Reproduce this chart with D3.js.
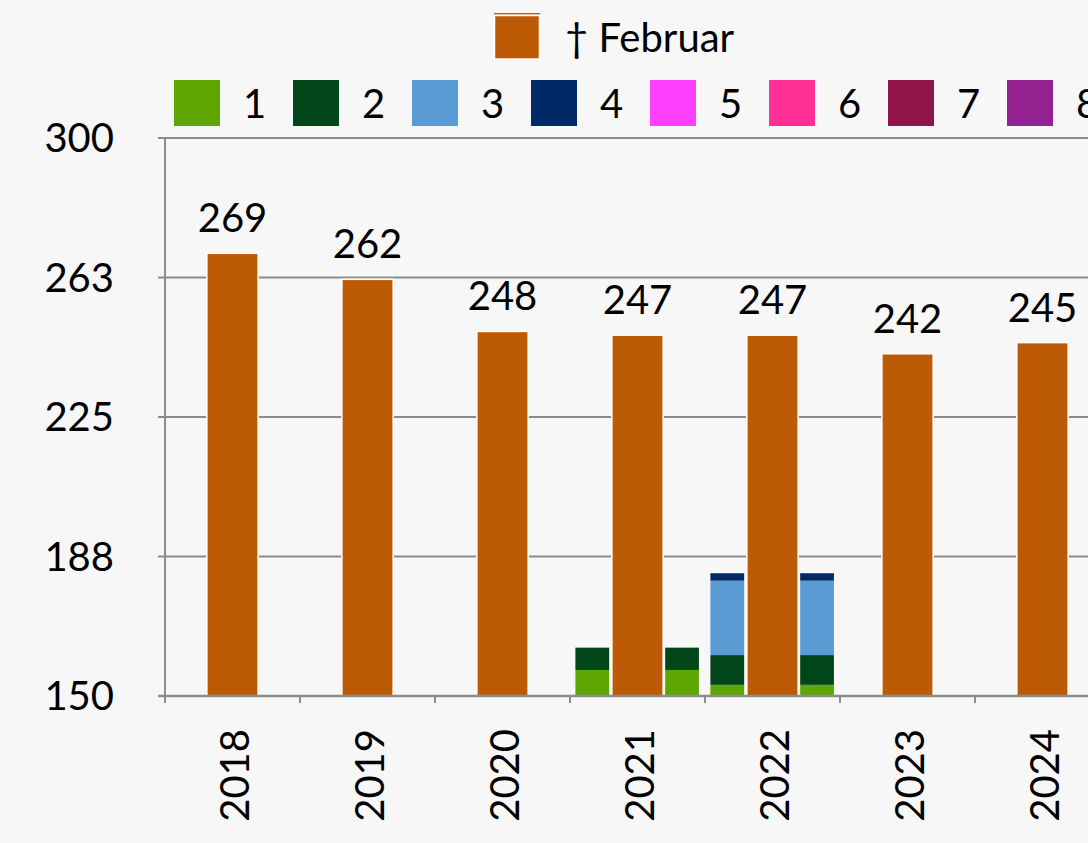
<!DOCTYPE html>
<html>
<head>
<meta charset="utf-8">
<script src="https://cdn.jsdelivr.net/npm/d3@7"></script>
<style>
  html, body { margin: 0; padding: 0; background: #f7f7f7; overflow: hidden; }
  svg { display: block; font-family: Lato, "Open Sans", sans-serif; }
</style>
</head>
<body>
<svg id="vis" width="1088" height="843"></svg>
<script>
// chart data
var years = ["2018", "2019", "2020", "2021", "2022", "2023", "2024"];
var februar = [269, 262, 248, 247, 247, 242, 245];

// stacked series 1..8, segment sizes above the axis minimum
var seriesNames = ["1", "2", "3", "4", "5", "6", "7", "8"];
var s1 = [0, 0, 0, 7, 3, 0, 0];
var s2 = [0, 0, 0, 6, 8, 0, 0];
var s3 = [0, 0, 0, 0, 20, 0, 0];
var s4 = [0, 0, 0, 0, 2, 0, 0];
var s5 = [0, 0, 0, 0, 0, 0, 0];
var s6 = [0, 0, 0, 0, 0, 0, 0];
var s7 = [0, 0, 0, 0, 0, 0, 0];
var s8 = [0, 0, 0, 0, 0, 0, 0];
var yTicks = [150, 187.5, 225, 262.5, 300];

var seriesColors = ["#5ea602", "#004619", "#5b9bd3", "#002a65", "#ff40ff", "#ff2f95", "#92154a", "#93218f"];
var FEB_COLOR = "#bd5a05";
var AXIS_COLOR = "#8c8c8c";

var _vis = d3.select("#vis");
var plotLeft = 165, plotTop = 138, plotBottom = 696;
var bandW = 135;

var x = d3.scaleBand()
    .domain(years)
    .range([plotLeft, plotLeft + bandW * years.length]);

var y = d3.scaleLinear()
    .domain([150, 300])
    .range([plotBottom, plotTop]);

// gridlines
_vis.append("g")
    .selectAll("line")
    .data(yTicks)
    .enter()
    .append("line")
    .attr("x1", plotLeft - 7)
    .attr("x2", 1088)
    .attr("y1", d => y(d))
    .attr("y2", d => y(d))
    .attr("stroke", AXIS_COLOR)
    .attr("stroke-width", 2);

// y labels
_vis.append("g")
    .selectAll("text")
    .data(yTicks)
    .enter()
    .append("text")
    .attr("x", 114)
    .attr("y", d => y(d))
    .attr("dy", "0.36em")
    .attr("text-anchor", "end")
    .attr("font-size", 40)
    .attr("fill", "#000")
    .text(d => d3.format(".0f")(d));

// stacked bars, drawn on both sides of the main bar
var stackData = [s1, s2, s3, s4, s5, s6, s7, s8];
var bw = x.bandwidth();
var sides = [{ off: 0.04 * bw, w: 0.25 * bw }, { off: 0.705 * bw, w: 0.25 * bw }];

var segments = [];
years.forEach(function (yr, i) {
    var base = 150;
    stackData.forEach(function (vals, k) {
        if (vals[i] > 0) {
            segments.push({ year: yr, y0: base, y1: base + vals[i], color: seriesColors[k] });
        }
        base += vals[i];
    });
});

sides.forEach(function (s) {
    _vis.append("g")
        .selectAll("rect")
        .data(segments)
        .enter()
        .append("rect")
        .attr("x", d => x(d.year) + s.off)
        .attr("width", s.w)
        .attr("y", d => y(d.y1))
        .attr("height", d => y(d.y0) - y(d.y1))
        .attr("fill", d => d.color);
});

// main bars
var mainOff = 0.31 * bw, mainW = 0.38 * bw;
_vis.append("g")
    .selectAll("rect")
    .data(februar)
    .enter()
    .append("rect")
    .attr("x", (d, i) => x(years[i]) + mainOff)
    .attr("width", mainW)
    .attr("y", d => y(d))
    .attr("height", d => y(150) - y(d))
    .attr("fill", FEB_COLOR)
    .attr("stroke", "#fff")
    .attr("stroke-width", 1.5);

// value labels
_vis.append("g")
    .selectAll("text")
    .data(februar)
    .enter()
    .append("text")
    .attr("x", (d, i) => x(years[i]) + bw / 2)
    .attr("y", d => y(d) - 21)
    .attr("text-anchor", "middle")
    .attr("font-size", 40)
    .attr("fill", "#000")
    .text(d => d);

// axis lines
_vis.append("line")
    .attr("x1", plotLeft).attr("x2", plotLeft)
    .attr("y1", plotTop).attr("y2", plotBottom + 7)
    .attr("stroke", AXIS_COLOR).attr("stroke-width", 2);
_vis.append("line")
    .attr("x1", plotLeft - 7).attr("x2", 1088)
    .attr("y1", plotBottom).attr("y2", plotBottom)
    .attr("stroke", AXIS_COLOR).attr("stroke-width", 2.5);

// category ticks
_vis.append("g")
    .selectAll("line")
    .data(years)
    .enter()
    .append("line")
    .attr("x1", d => x(d) + bw)
    .attr("x2", d => x(d) + bw)
    .attr("y1", plotBottom)
    .attr("y2", plotBottom + 7)
    .attr("stroke", AXIS_COLOR)
    .attr("stroke-width", 2);

// x labels
_vis.append("g")
    .selectAll("text")
    .data(years)
    .enter()
    .append("text")
    .attr("transform", d => "translate(" + (x(d) + bw / 2 + 2) + "," + 729 + ") rotate(-90)")
    .attr("dy", "0.36em")
    .attr("text-anchor", "end")
    .attr("font-size", 40)
    .attr("fill", "#000")
    .text(d => d);

// legend - Februar
var legTop = _vis.append("g");
legTop.append("rect")
    .attr("x", 494).attr("y", 13).attr("width", 46).attr("height", 1.5)
    .attr("fill", FEB_COLOR);
legTop.append("rect")
    .attr("x", 494.5).attr("y", 15.5).attr("width", 45).attr("height", 43.5)
    .attr("fill", FEB_COLOR).attr("stroke", "#fff").attr("stroke-width", 1.5);
legTop.append("text")
    .attr("x", 565).attr("y", 52)
    .attr("font-size", 40)
    .attr("fill", "#000")
    .text("\u2020 Februar");

// legend - series 1..8
var legItems = _vis.append("g")
    .selectAll("g")
    .data(seriesNames)
    .enter()
    .append("g")
    .attr("transform", (d, i) => "translate(" + (174 + i * 119) + ",80)");
legItems.append("rect")
    .attr("width", 46).attr("height", 46)
    .attr("fill", (d, i) => seriesColors[i]);
legItems.append("text")
    .attr("x", 69).attr("y", 37.5)
    .attr("font-size", 40)
    .attr("fill", "#000")
    .text(d => d);
</script>
</body>
</html>
